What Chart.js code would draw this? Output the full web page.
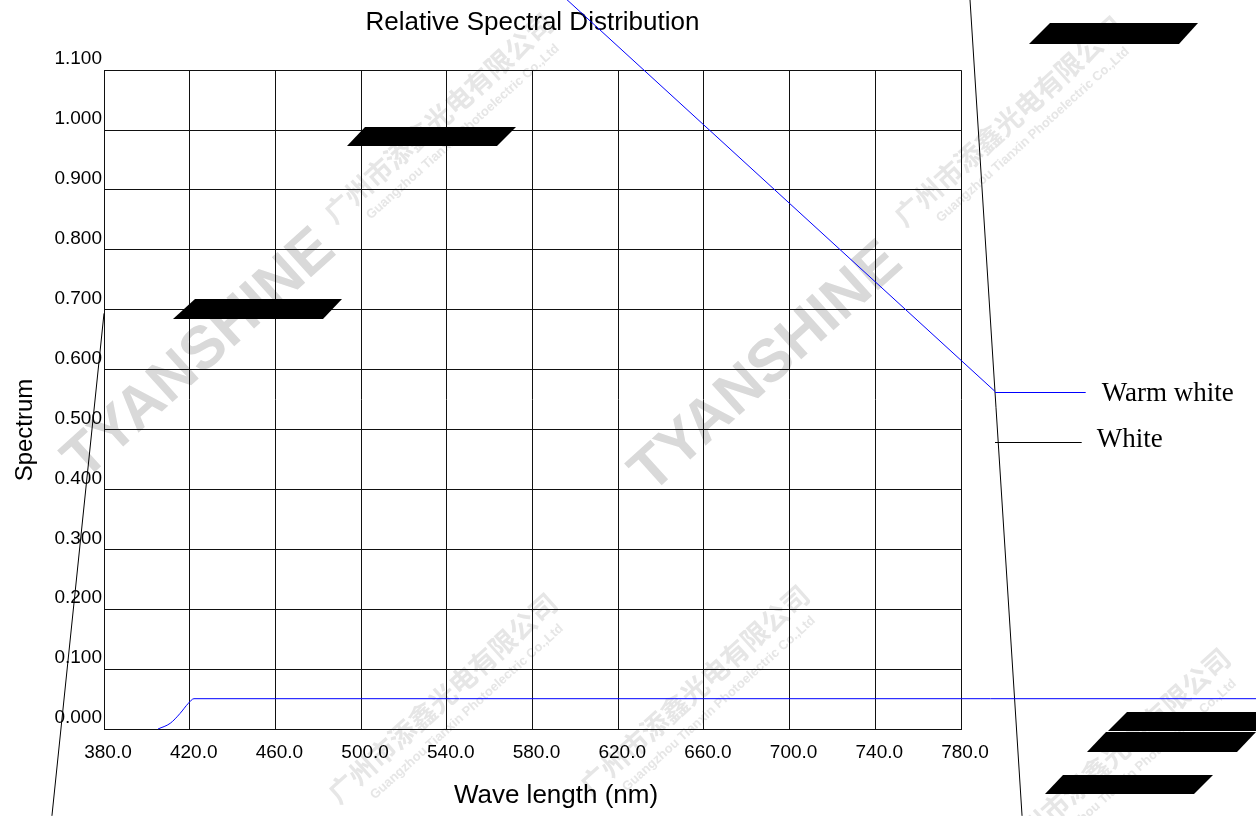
<!DOCTYPE html>
<html>
<head>
<meta charset="utf-8">
<title>Relative Spectral Distribution</title>
<script src="https://cdn.jsdelivr.net/npm/chart.js@4.4.1/dist/chart.umd.min.js"></script>
<style>
  html, body { margin: 0; padding: 0; background: #fff; }
  #wrap { width: 1256px; height: 816px; position: relative; }
</style>
</head>
<body>
<div id="wrap"><canvas id="spectrum"></canvas></div>
<script>
// --- data ---
const xTicks = [380, 420, 460, 500, 540, 580, 620, 660, 700, 740, 780];
const yTicks = [0, 0.1, 0.2, 0.3, 0.4, 0.5, 0.6, 0.7, 0.8, 0.9, 1.0, 1.1];

// warm white: rises from ~405nm, flat after 422nm (runs past the frame)
const warmWhiteX = [405.2, 410.9, 415.5, 419.4, 422.0, 917.7];
const warmWhiteY = [0.000, 0.0095, 0.026, 0.043, 0.0506, 0.0506];
// stray blue stroke that ends in the legend
const warmTailX = [596.0, 795.9];
const warmTailY = [1.218, 0.5636];
// white: two stray black strokes
const whiteLeftX = [355.7, 380.0];
const whiteLeftY = [-0.145, 0.694];
// drawn bottom-up so chart.js does not trim it (both points are past 780)
const whiteRightX = [808.5, 784.2];
const whiteRightY = [-0.145, 1.218];

const BLUE = '#0000ff';
const BLACK = '#000000';
const SANS = '"Liberation Sans", Arial, sans-serif';
const SERIF = '"Liberation Serif", "Times New Roman", serif';

const pts = (xs, ys) => xs.map((x, i) => ({ x: x, y: ys[i] }));

function stroke(label, xs, ys, color, legend) {
    return {
        label: label,
        data: pts(xs, ys),
        borderColor: color,
        borderWidth: 1,
        pointRadius: 0,
        tension: 0,
        clip: false,
        showInLegend: legend
    };
}

// watermark, black blotches and the legend are drawn by hand
const decor = {
    id: 'decor',
    beforeDraw(chart) {
        const ctx = chart.ctx;
        const marks = [
            ['logo', 200, 355], ['logo', 767, 368],
            ['cn', 335, 225], ['cn', 905, 228], ['cn', 339, 805],
            ['cn', 591, 797], ['cn', 1012, 860]
        ];
        ctx.save();
        marks.forEach(m => {
            ctx.save();
            ctx.translate(m[1], m[2]);
            ctx.rotate(-42 * Math.PI / 180);
            if (m[0] === 'logo') {
                ctx.fillStyle = '#d9d9d9';
                ctx.font = 'bold 60px ' + SANS;
                ctx.textAlign = 'center';
                ctx.textBaseline = 'middle';
                ctx.fillText('TYANSHINE', 0, 0);
            } else {
                ctx.fillStyle = '#e6e6e6';
                ctx.font = 'bold 27px "Noto Sans CJK SC"';
                ctx.textAlign = 'left';
                ctx.textBaseline = 'alphabetic';
                ctx.fillText('广州市添鑫光电有限公司', 0, 0);
                ctx.font = 'bold 13px ' + SANS;
                ctx.fillText('Guangzhou Tianxin Photoelectric Co.,Ltd', 30, 20);
            }
            ctx.restore();
        });
        ctx.restore();
    },
    afterDatasetsDraw(chart) {
        const ctx = chart.ctx;
        const area = chart.chartArea;
        ctx.save();

        // black parallelograms (top-left, top-right, bottom-right, bottom-left)
        const blots = [
            [[195, 299], [342, 299], [323, 319], [173, 319]],
            [[365, 127], [516, 127], [497, 146], [347, 146]],
            [[1050, 23], [1198, 23], [1179, 44], [1029, 44]],
            [[1127, 712], [1276, 712], [1258, 731], [1108, 731]],
            [[1106, 732], [1256, 732], [1237, 752], [1087, 752]],
            [[1063, 775], [1213, 775], [1194, 794], [1045, 794]]
        ];
        ctx.fillStyle = '#000';
        blots.forEach(p => {
            ctx.beginPath();
            ctx.moveTo(p[0][0], p[0][1]);
            for (let i = 1; i < p.length; i++) ctx.lineTo(p[i][0], p[i][1]);
            ctx.closePath();
            ctx.fill();
        });

        // legend
        const items = chart.data.datasets.filter(d => d.showInLegend);
        const rows = [
            { y: 391.7, x1: 1085.7, tx: 1101.7, base: 401 },
            { y: 442.3, x1: 1081.7, tx: 1096.7, base: 446.7 }
        ];
        items.forEach((d, i) => {
            const r = rows[i];
            ctx.strokeStyle = d.borderColor;
            ctx.lineWidth = 1;
            ctx.beginPath();
            ctx.moveTo(995, Math.round(r.y) + 0.5);
            ctx.lineTo(r.x1, Math.round(r.y) + 0.5);
            ctx.stroke();
            ctx.fillStyle = '#000';
            ctx.font = '27px ' + SERIF;
            ctx.textAlign = 'left';
            ctx.textBaseline = 'alphabetic';
            ctx.fillText(d.label, r.tx, r.base);
        });

        // axis titles
        ctx.fillStyle = '#000';
        ctx.font = '26px ' + SANS;
        ctx.textAlign = 'center';
        ctx.textBaseline = 'alphabetic';
        ctx.fillText('Wave length (nm)', area.left + 452, 802.5);

        ctx.save();
        ctx.translate(32, 430);
        ctx.rotate(-Math.PI / 2);
        ctx.font = '24px ' + SANS;
        ctx.fillText('Spectrum', 0, 0);
        ctx.restore();

        ctx.restore();
    }
};

const warm = stroke('Warm white', warmWhiteX, warmWhiteY, BLUE, true);
warm.cubicInterpolationMode = 'monotone';

new Chart(document.getElementById('spectrum'), {
    type: 'line',
    data: {
        datasets: [
            warm,
            stroke('White', whiteLeftX, whiteLeftY, BLACK, true),
            stroke('Warm white', warmTailX, warmTailY, BLUE, false),
            stroke('White', whiteRightX, whiteRightY, BLACK, false)
        ]
    },
    options: {
        responsive: true,
        maintainAspectRatio: false,
        animation: false,
        events: [],
        layout: { padding: { left: 0, right: 295, top: 0, bottom: 0 } },
        plugins: {
            legend: { display: false },
            tooltip: { enabled: false },
            title: {
                display: true,
                text: 'Relative Spectral Distribution',
                fullSize: false,
                color: '#000',
                font: { family: SANS, size: 26, weight: 'normal' },
                padding: { top: 7, bottom: 32 }
            }
        },
        scales: {
            x: {
                type: 'linear',
                min: xTicks[0],
                max: xTicks[xTicks.length - 1],
                afterBuildTicks: s => { s.ticks = xTicks.map(v => ({ value: v })); },
                afterFit: s => { s.height = 87; },
                grid: { color: '#111', lineWidth: 1, drawTicks: false },
                border: { color: '#111', width: 1 },
                ticks: {
                    color: '#000',
                    font: { family: SANS, size: 19 },
                    padding: 12,
                    labelOffset: 4,
                    maxRotation: 0,
                    callback: v => v.toFixed(1)
                }
            },
            y: {
                type: 'linear',
                min: yTicks[0],
                max: yTicks[yTicks.length - 1],
                afterBuildTicks: s => { s.ticks = yTicks.map(v => ({ value: v })); },
                afterFit: s => { s.width = 104; },
                grid: { color: '#111', lineWidth: 1, drawTicks: false },
                border: { color: '#111', width: 1 },
                ticks: {
                    color: '#000',
                    font: { family: SANS, size: 19 },
                    padding: 2,
                    labelOffset: -11,
                    callback: v => v.toFixed(3)
                }
            }
        }
    },
    plugins: [decor]
});
</script>
</body>
</html>
